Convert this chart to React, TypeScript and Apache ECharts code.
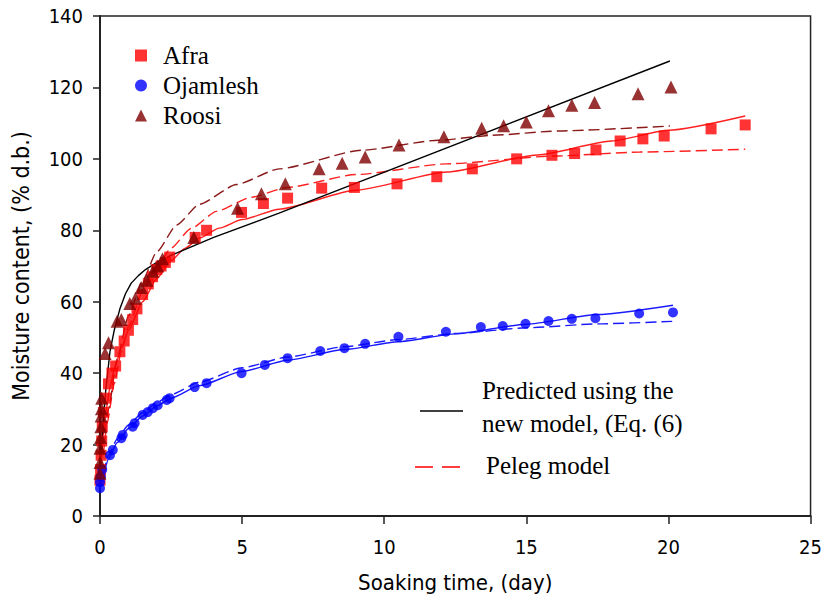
import React, { useEffect, useRef } from "react";
import * as echarts from "echarts";

// Observed data [day, moisture % d.b.]
const afraData: [number, number][] = [
  [0.0, 10], [0.02, 13], [0.04, 17], [0.06, 21], [0.08, 25], [0.12, 29], [0.2, 33], [0.3, 37],
  [0.42, 40], [0.55, 42], [0.7, 46], [0.85, 49], [1.0, 52], [1.15, 55], [1.3, 58], [1.5, 62],
  [1.7, 65], [1.85, 67], [2.0, 69], [2.15, 70], [2.3, 71], [2.45, 72.5], [3.35, 78], [3.75, 80],
  [4.98, 85], [5.75, 87.5], [6.6, 89], [7.8, 91.8], [8.95, 92], [10.45, 93], [11.85, 95],
  [13.1, 97.2], [14.66, 100], [15.9, 101], [16.7, 101.5], [17.45, 102.5], [18.3, 105],
  [19.1, 105.6], [19.85, 106.4], [21.5, 108.4], [22.7, 109.5],
];
const ojamleshData: [number, number][] = [
  [0.0, 7.8], [0.0, 9.5], [0.03, 11], [0.08, 13], [0.35, 17], [0.45, 18.5], [0.75, 21.8],
  [0.8, 22.7], [1.15, 25], [1.22, 26], [1.5, 28.3], [1.68, 29.1], [1.86, 30.2], [2.03, 31],
  [2.35, 32.5], [2.45, 33], [3.33, 36.1], [3.75, 37.2], [4.98, 40], [5.8, 42.3], [6.6, 44.2],
  [7.75, 46.2], [8.6, 47], [9.33, 48.2], [10.5, 50.2], [12.17, 51.6], [13.4, 52.9], [14.17, 53.2],
  [14.97, 53.8], [15.78, 54.6], [16.6, 55.2], [17.43, 55.4], [18.97, 56.7], [20.16, 57],
];
const roosiData: [number, number][] = [
  [0.0, 12], [0.0, 15], [0.0, 19], [0.02, 22], [0.03, 25], [0.04, 28], [0.05, 30], [0.06, 33],
  [0.18, 45.5], [0.3, 48.5], [0.6, 54.5], [0.75, 55], [1.05, 59.5], [1.25, 61], [1.45, 64],
  [1.65, 66], [1.86, 68.5], [2.03, 70], [2.2, 72], [3.3, 78], [4.84, 86.2], [5.68, 90.2],
  [6.52, 93], [7.71, 97.2], [8.52, 98.8], [9.33, 100.5], [10.52, 103.9], [12.1, 106.2],
  [13.43, 108.6], [14.2, 109.3], [15.0, 110.3], [15.78, 113.5], [16.6, 115], [17.4, 115.8],
  [18.93, 118.2], [20.09, 120.1],
];

// Fitted curves
const afraNewModel: [number, number][] = [
  [0, 8], [0.05, 16], [0.1, 22], [0.2, 29], [0.35, 36], [0.5, 41], [0.75, 47], [1, 52],
  [1.5, 60], [2, 66.5], [2.5, 71.5], [3, 75], [3.5, 77.8], [4.2, 80.6], [5, 83], [6.3, 85.9],
  [9, 91.2], [12.2, 96.3], [15.4, 101.1], [18, 105], [20, 108], [22.7, 112],
];
const afraPeleg: [number, number][] = [
  [0, 8], [0.1, 17], [0.25, 26], [0.5, 37], [0.75, 46], [1, 53], [1.5, 63], [2, 70], [2.5, 75],
  [3.2, 80.5], [4.1, 85.3], [5.3, 89.2], [6.6, 92], [9, 95.6], [12.2, 98.6], [16, 100.8],
  [19, 101.9], [22.7, 102.7],
];
const roosiNewModel: [number, number][] = [
  [0, 9], [0.05, 18], [0.1, 25], [0.2, 35], [0.35, 46], [0.5, 52], [0.7, 58], [0.9, 62.3],
  [1.1, 65.2], [1.35, 67.3], [1.6, 69], [2, 71], [2.5, 73], [4, 78], [6.3, 84.8],
  [20.05, 127.4],
];
const roosiPeleg: [number, number][] = [
  [0, 10], [0.1, 20], [0.3, 30], [0.6, 44], [1, 56], [1.5, 66], [2, 74], [2.7, 81.5],
  [3.5, 87.3], [4.8, 92.8], [6.3, 97.2], [9.2, 102.4], [11.9, 105.2], [13.8, 106.6],
  [16.1, 107.8], [20.05, 109.2],
];
const ojamleshNewModel: [number, number][] = [
  [0, 7.5], [0.1, 11.5], [0.3, 16], [0.6, 20.5], [1, 24.5], [1.5, 28], [2, 30.8], [2.5, 33],
  [3.5, 36.5], [5, 40.5], [6.6, 43.6], [8.6, 46.6], [10.5, 48.8], [12.5, 51], [15, 53.7],
  [17.5, 56.4], [20.16, 59],
];
const ojamleshPeleg: [number, number][] = [
  [0, 7.5], [0.1, 12], [0.3, 17], [0.6, 21.5], [1, 25.5], [1.5, 29], [2, 31.8], [2.5, 34],
  [3.5, 37.5], [5, 41.5], [6.6, 44.5], [8.6, 47.4], [10.5, 49.4], [12.5, 51.1], [15, 52.7],
  [17.5, 53.8], [20.16, 54.5],
];

const xAxisTitle = "Soaking time, (day)";
const yAxisTitle = "Moisture content, (% d.b.)";

const SANS = "'DejaVu Sans Condensed', 'Liberation Sans', sans-serif";
const SERIF = "'Liberation Serif', 'Times New Roman', serif";

export default function App() {
  const ref = useRef<HTMLDivElement>(null);
  useEffect(() => {
    if (!ref.current) return;
    const chart = echarts.init(ref.current, undefined, { renderer: "svg" });
    const lineSeries = (
      name: string,
      data: [number, number][],
      color: string,
      dashed: boolean,
      smooth: number | boolean = 0.2
    ) => ({
      name,
      type: "line",
      data,
      smooth,
      smoothMonotone: "x",
      showSymbol: false,
      symbol: "none",
      silent: true,
      z: 2,
      lineStyle: { color, width: 1.4, type: dashed ? [11, 5] : "solid" },
    });
    chart.setOption({
      animation: false,
      backgroundColor: "#fff",
      grid: {
        left: 100, right: 12, top: 16, bottom: 87,
        show: true, borderColor: "#222", borderWidth: 1.5, backgroundColor: "transparent",
      },
      legend: {
        orient: "vertical",
        left: 130,
        top: 38,
        itemWidth: 12,
        itemHeight: 12,
        itemGap: 5,
        selectedMode: false,
        textStyle: { fontFamily: SERIF, fontSize: 25, color: "#000", padding: [0, 0, 0, 11] },
        data: [
          { name: "Afra", icon: "rect" },
          { name: "Ojamlesh", icon: "circle" },
          { name: "Roosi", icon: "triangle" },
        ],
      },
      xAxis: {
        type: "value",
        min: 0, max: 25, interval: 5,
        name: xAxisTitle,
        nameLocation: "middle",
        nameGap: 55,
        nameTextStyle: { fontFamily: SANS, fontSize: 22, color: "#000" },
        axisLine: { show: true, onZero: false, lineStyle: { color: "#222", width: 2 } },
        axisTick: { show: true, inside: false, length: 8, lineStyle: { color: "#222", width: 1.5 } },
        axisLabel: { fontFamily: SANS, fontSize: 20, color: "#000", margin: 21 },
        splitLine: { show: false },
      },
      yAxis: {
        type: "value",
        min: 0, max: 140, interval: 20,
        name: yAxisTitle,
        nameLocation: "middle",
        nameGap: 68,
        nameTextStyle: { fontFamily: SANS, fontSize: 23, color: "#000" },
        axisLine: { show: true, onZero: false, lineStyle: { color: "#222", width: 2 } },
        axisTick: { show: true, inside: false, length: 7, lineStyle: { color: "#222", width: 1.5 } },
        axisLabel: { fontFamily: SANS, fontSize: 20, color: "#000", margin: 17 },
        splitLine: { show: false },
      },
      series: [
        lineSeries("Afra new model", afraNewModel, "#ff2020", false),
        lineSeries("Afra Peleg", afraPeleg, "#ff2020", true),
        lineSeries("Roosi new model", roosiNewModel, "#000000", false, false),
        lineSeries("Roosi Peleg", roosiPeleg, "#8b1a1a", true),
        lineSeries("Ojamlesh new model", ojamleshNewModel, "#1a1aff", false),
        lineSeries("Ojamlesh Peleg", ojamleshPeleg, "#1a1aff", true),
        {
          name: "Afra", type: "scatter", data: afraData, symbol: "rect", symbolSize: 11,
          itemStyle: { color: "#ff0000" }, z: 3,
        },
        {
          name: "Ojamlesh", type: "scatter", data: ojamleshData, symbol: "circle", symbolSize: 10,
          itemStyle: { color: "#0000ff" }, z: 3,
        },
        {
          name: "Roosi", type: "scatter", data: roosiData, symbol: "triangle", symbolSize: 13,
          itemStyle: { color: "#800000" }, z: 3,
        },
      ],
      graphic: [
        { type: "line", shape: { x1: 420, y1: 411, x2: 463, y2: 411 }, style: { stroke: "#000", lineWidth: 1.5 } },
        {
          type: "text", left: 482, top: 378,
          style: { text: "Predicted using the", fontFamily: SERIF, fontSize: 25, fill: "#000" },
        },
        {
          type: "text", left: 482, top: 411,
          style: { text: "new model, (Eq. (6)", fontFamily: SERIF, fontSize: 25, fill: "#000" },
        },
        {
          type: "line", shape: { x1: 415, y1: 467, x2: 460, y2: 467 },
          style: { stroke: "#ff0000", lineWidth: 1.5, lineDash: [18, 9] },
        },
        {
          type: "text", left: 486, top: 453,
          style: { text: "Peleg model", fontFamily: SERIF, fontSize: 25, fill: "#000" },
        },
      ],
    });
    return () => chart.dispose();
  }, []);
  return (
    <div
      ref={ref}
      style={{ position: "fixed", left: 0, top: 0, width: 825, height: 603, background: "#fff" }}
    />
  );
}
